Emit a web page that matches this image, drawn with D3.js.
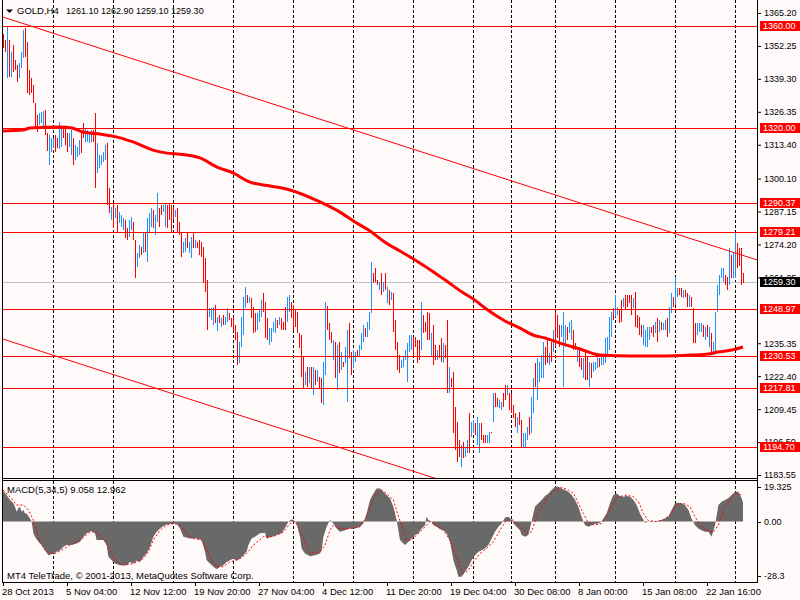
<!DOCTYPE html>
<html>

<head>
    <meta charset="utf-8">
    <title>GOLD,H4</title>
    <script src="https://cdn.jsdelivr.net/npm/d3@7"></script>
    <style>
        body { margin: 0; background: #fffafa; }
        svg text { font-family: 'Liberation Sans', Arial, sans-serif; font-size: 9.5px; }
        svg text.num { font-size: 9px; }
    </style>
</head>

<body>
    <svg width="800" height="600" id="mainsvg" style="display: block;"></svg>
    <script>
        // ---- data (bar index 0 = 28 Oct 2013 20:00, H4 bars) ----
        const symbolName = 'GOLD,H4';
        const lastOHLC = [1261.10, 1262.90, 1259.10, 1259.30];

        const barHigh = [
            1356.8, 1354.6, 1359.8, 1354.6, 1350.0, 1352.6, 1346.7, 1344.7, 1345.5, 1350.0,
            1358.5, 1359.3, 1353.9, 1342.8, 1339.6, 1336.9, 1329.8, 1325.1, 1325.9, 1326.3,
            1326.7, 1327.0, 1318.0, 1317.2, 1316.0, 1316.0, 1317.2, 1316.0, 1322.3, 1320.0,
            1320.0, 1320.0, 1318.0, 1318.0, 1319.2, 1316.0, 1313.3, 1312.5, 1315.3, 1319.2,
            1321.9, 1320.0, 1319.2, 1318.4, 1319.2, 1319.2, 1325.9, 1314.1, 1309.4, 1309.4,
            1310.5, 1313.3, 1314.1, 1296.4, 1288.9, 1290.5, 1288.5, 1289.7, 1287.0, 1285.8,
            1284.6, 1283.8, 1280.7, 1283.8, 1285.0, 1283.0, 1275.9, 1270.8, 1274.0, 1273.2,
            1278.7, 1279.1, 1284.6, 1286.6, 1288.5, 1287.7, 1285.8, 1294.4, 1288.5, 1289.7,
            1289.7, 1290.5, 1289.7, 1290.5, 1289.7, 1288.9, 1287.7, 1288.5, 1283.0, 1279.1,
            1275.1, 1276.7, 1278.7, 1275.1, 1277.1, 1278.7, 1275.9, 1275.1, 1275.9, 1275.1,
            1273.2, 1268.9, 1260.2, 1249.2, 1249.2, 1249.6, 1250.4, 1245.7, 1246.4, 1245.3,
            1246.4, 1245.7, 1249.2, 1247.2, 1245.3, 1245.7, 1242.5, 1239.8, 1235.8, 1245.7,
            1253.5, 1257.5, 1254.3, 1253.5, 1253.1, 1249.6, 1247.2, 1247.2, 1248.4, 1252.3,
            1255.1, 1251.6, 1245.3, 1241.3, 1241.3, 1243.7, 1245.3, 1244.5, 1245.7, 1245.3,
            1243.7, 1249.6, 1253.5, 1254.3, 1251.6, 1250.4, 1248.4, 1247.6, 1239.4, 1238.6,
            1229.9, 1224.0, 1226.0, 1226.0, 1226.0, 1226.0, 1224.8, 1224.8, 1222.1, 1221.7,
            1228.0, 1251.6, 1250.0, 1243.3, 1239.8, 1236.6, 1235.8, 1234.7, 1235.8, 1231.9,
            1228.0, 1233.9, 1240.5, 1243.3, 1231.9, 1232.7, 1231.9, 1232.7, 1234.7, 1239.4,
            1242.5, 1241.3, 1243.7, 1247.6, 1267.3, 1263.0, 1265.0, 1260.2, 1259.4, 1263.0,
            1259.4, 1263.0, 1257.5, 1256.3, 1255.5, 1255.1, 1244.5, 1235.8, 1230.7, 1228.8,
            1229.9, 1232.7, 1235.4, 1238.6, 1238.6, 1237.8, 1237.8, 1236.6, 1236.6, 1251.6,
            1246.4, 1243.7, 1247.6, 1247.2, 1239.4, 1242.5, 1234.7, 1232.7, 1234.7, 1237.4,
            1235.4, 1234.7, 1244.5, 1226.0, 1221.7, 1224.0, 1210.3, 1204.4, 1197.3, 1195.4,
            1196.5, 1194.6, 1197.3, 1207.9, 1204.4, 1205.2, 1204.0, 1206.3, 1204.0, 1204.0,
            1199.3, 1199.3, 1199.3, 1200.4, 1200.4, 1215.8, 1215.8, 1213.8, 1213.0, 1212.2,
            1215.8, 1218.9, 1218.9, 1215.8, 1215.8, 1211.1, 1207.9, 1206.3, 1208.3, 1205.2,
            1200.0, 1200.0, 1202.4, 1206.3, 1214.2, 1221.7, 1227.6, 1229.5, 1228.0, 1230.7,
            1235.8, 1233.9, 1236.6, 1231.5, 1235.8, 1240.5, 1247.6, 1246.4, 1242.5, 1242.5,
            1247.6, 1242.5, 1241.7, 1243.7, 1244.5, 1240.5, 1235.4, 1233.9, 1233.9, 1229.5,
            1229.5, 1231.9, 1229.9, 1228.0, 1227.6, 1228.0, 1228.0, 1231.5, 1229.5, 1230.7,
            1230.7, 1237.4, 1237.8, 1245.7, 1247.6, 1249.2, 1254.3, 1249.6, 1248.4, 1252.3,
            1253.1, 1254.3, 1254.3, 1254.3, 1254.3, 1253.1, 1255.5, 1246.4, 1245.7, 1242.5,
            1242.5, 1240.5, 1241.7, 1241.7, 1241.7, 1242.5, 1243.7, 1245.3, 1244.5, 1243.7,
            1243.3, 1244.5, 1245.3, 1249.6, 1255.1, 1253.5, 1261.4, 1257.1, 1257.1, 1257.1,
            1256.3, 1256.3, 1255.1, 1254.3, 1253.5, 1249.2, 1243.3, 1243.3, 1243.3, 1243.3,
            1242.5, 1241.7, 1242.5, 1241.7, 1239.4, 1235.8, 1247.6, 1258.2, 1262.2, 1264.9,
            1264.9, 1262.2, 1261.4, 1272.8, 1270.0, 1271.2, 1279.1, 1274.8, 1272.8, 1272.8,
            1262.9
        ];

        const barLow = [
            1351.3, 1350.0, 1339.7, 1340.1, 1340.1, 1342.1, 1342.8, 1338.2, 1339.6, 1343.6,
            1347.5, 1348.0, 1333.6, 1333.0, 1333.7, 1329.8, 1320.0, 1318.4, 1321.2, 1321.9,
            1320.4, 1317.2, 1310.9, 1305.4, 1310.5, 1312.1, 1310.5, 1312.1, 1311.7, 1312.5,
            1316.0, 1313.3, 1310.5, 1312.5, 1309.4, 1305.4, 1307.4, 1308.6, 1309.4, 1310.1,
            1316.0, 1314.5, 1314.5, 1314.1, 1314.5, 1314.5, 1296.4, 1302.3, 1304.2, 1305.4,
            1306.6, 1307.4, 1289.7, 1286.5, 1283.8, 1280.6, 1284.6, 1278.7, 1282.6, 1281.0,
            1279.9, 1276.7, 1275.9, 1277.1, 1279.9, 1275.9, 1261.0, 1265.3, 1268.9, 1270.0,
            1270.8, 1271.2, 1267.3, 1278.7, 1281.1, 1280.7, 1277.9, 1283.0, 1281.1, 1285.8,
            1287.0, 1281.1, 1280.7, 1283.8, 1279.1, 1283.8, 1285.0, 1279.1, 1277.9, 1269.2,
            1270.8, 1271.2, 1272.8, 1270.8, 1268.9, 1272.8, 1272.8, 1272.8, 1270.0, 1269.2,
            1259.0, 1255.5, 1240.5, 1245.7, 1244.5, 1242.5, 1243.3, 1240.1, 1243.3, 1241.7,
            1242.5, 1242.5, 1243.7, 1244.5, 1241.7, 1240.5, 1236.6, 1226.8, 1227.6, 1233.9,
            1238.6, 1249.2, 1251.2, 1251.2, 1245.3, 1239.4, 1239.8, 1240.5, 1243.7, 1245.7,
            1247.6, 1237.4, 1236.6, 1234.7, 1235.8, 1239.8, 1239.4, 1241.3, 1242.5, 1240.5,
            1240.5, 1240.5, 1243.7, 1247.6, 1245.3, 1240.5, 1241.7, 1239.4, 1233.5, 1222.1,
            1217.7, 1218.9, 1218.1, 1219.7, 1217.7, 1215.0, 1218.9, 1220.1, 1217.7, 1211.8,
            1211.1, 1222.9, 1240.5, 1236.6, 1235.4, 1228.8, 1221.7, 1217.0, 1223.6, 1224.8,
            1226.0, 1227.6, 1212.2, 1229.5, 1222.9, 1225.6, 1228.0, 1229.9, 1229.9, 1232.7,
            1235.8, 1237.8, 1237.8, 1240.5, 1247.2, 1259.0, 1259.4, 1258.2, 1256.3, 1254.3,
            1255.5, 1256.3, 1251.2, 1250.4, 1252.3, 1239.8, 1232.7, 1224.8, 1223.6, 1225.6,
            1226.0, 1228.8, 1220.1, 1231.9, 1232.7, 1229.9, 1233.9, 1227.6, 1228.8, 1232.7,
            1239.4, 1239.8, 1236.6, 1236.6, 1229.9, 1226.8, 1228.8, 1228.8, 1229.5, 1228.0,
            1227.6, 1229.5, 1215.8, 1215.8, 1218.1, 1200.0, 1193.4, 1188.6, 1190.6, 1186.7,
            1190.2, 1190.6, 1192.2, 1192.2, 1198.5, 1200.0, 1199.3, 1195.3, 1192.2, 1197.3,
            1196.1, 1196.1, 1196.1, 1196.1, 1200.0, 1204.4, 1210.3, 1210.3, 1209.9, 1209.1,
            1210.3, 1213.0, 1215.0, 1209.1, 1207.9, 1205.9, 1202.4, 1200.0, 1203.2, 1194.5,
            1194.5, 1194.2, 1197.3, 1199.3, 1200.0, 1207.9, 1218.1, 1213.0, 1220.1, 1221.7,
            1221.7, 1226.8, 1227.6, 1226.8, 1228.0, 1231.9, 1233.9, 1237.4, 1233.9, 1237.8,
            1218.1, 1233.9, 1236.6, 1239.4, 1236.6, 1232.7, 1232.7, 1228.0, 1226.0, 1224.8,
            1221.7, 1220.9, 1220.9, 1218.1, 1221.7, 1224.0, 1224.8, 1225.6, 1226.0, 1226.8,
            1226.8, 1227.6, 1229.9, 1232.7, 1237.8, 1244.5, 1245.7, 1246.4, 1243.3, 1243.7,
            1249.6, 1248.4, 1249.6, 1251.2, 1246.4, 1249.2, 1241.7, 1241.3, 1238.6, 1237.8,
            1234.7, 1233.9, 1233.9, 1236.6, 1239.4, 1237.8, 1239.4, 1235.8, 1239.8, 1240.5,
            1240.5, 1240.5, 1237.8, 1239.4, 1247.2, 1249.6, 1250.4, 1253.5, 1254.3, 1253.5,
            1253.1, 1253.5, 1249.6, 1249.6, 1249.6, 1235.4, 1235.4, 1238.6, 1239.8, 1239.8,
            1237.8, 1236.6, 1237.8, 1233.9, 1230.7, 1230.7, 1231.5, 1247.6, 1254.3, 1261.0,
            1259.4, 1258.2, 1256.3, 1258.2, 1261.0, 1261.0, 1261.0, 1264.9, 1265.9, 1258.2,
            1259.1
        ];

        // u = bar closed up (blue), d = bar closed down (red)
        const barDir = (
            'ddududdduu' + 'uddddddduu' + 'udduuudduu' + 'ddduuduuud' + 'duuuudduuu' + 'uuddududuu' + 'ud' +
            'duudduudud' + 'uuuduudduu' + 'dddduddduu' + 'duududdddd' + 'duuudududu' + 'uddddduuuu' + 'du' +
            'ddduuudddu' + 'uuududdduu' + 'dddddddudu' + 'dududduudd' + 'dudududuud' + 'duuduuuduu' + 'ud' +
            'ddudududud' + 'ddduuuuuud' + 'ddduddddud' + 'dudduddudd' + 'ddduduuduu' + 'duuddduudu' + 'ddu' +
            'udduddddud' + 'duuuduuduu' + 'uuddududdd' + 'uuuduuddud' + 'dudduduuud' + 'uuuuuuduud' + 'du' +
            'dddduddddu' + 'uuuddududu' + 'uduuduuddu' + 'dduddduuud' + 'ududuuuuuu' + 'dduduudddd'
        ).split('');

        // moving average (thick red line), sampled along the curve
        const maBar = [0, 10, 13.5, 28.5, 34.5, 40, 48.5, 55, 65, 75, 82, 88.5, 98.5, 107, 115, 123.5,
            133.5, 143.5, 158.5, 168.5, 176, 183.5, 191, 198.5, 206, 216, 222.5, 229.5, 236, 241, 251,
            258.5, 265, 271, 278.5, 288.5, 298.5, 313.5, 328.5, 344.5, 352.5, 357.5, 364.5, 370];
        const maValue = [1318.8, 1319.2, 1320.0, 1320.4, 1320.0, 1318.4, 1317.6, 1316.8, 1314.5, 1311.3,
            1310.1, 1309.7, 1308.2, 1304.6, 1302.3, 1298.7, 1297.2, 1295.6, 1290.9, 1286.9, 1283.0,
            1279.5, 1275.1, 1271.6, 1268.1, 1263.0, 1259.4, 1255.5, 1252.3, 1249.2, 1244.1, 1241.3,
            1238.6, 1237.4, 1235.4, 1233.1, 1230.7, 1230.3, 1230.3, 1230.7, 1231.1, 1231.9, 1232.7, 1233.9];

        // trend channel (two anchor bars)
        const trendBars = [0, 377];
        const trendUpper = [1363.6, 1268.1];
        const trendLower = [1237.0, 1141.5];

        const levels = [1360.00, 1320.00, 1290.37, 1279.21, 1248.97, 1230.53, 1217.81, 1194.70];
        const bidPrice = 1259.30;
        // 1248.30 sits fully under the 1248.97 tag, so it is left out
        const priceTicks = [1365.20, 1352.25, 1339.30, 1326.35, 1313.40, 1300.10, 1287.15, 1274.20,
            1261.25, 1235.35, 1222.40, 1209.45, 1196.50, 1183.55];

        // MACD(5,34,5) histogram and signal, sampled along the outline
        const macdBar = [0, 1.8, 3.5, 5.2, 6, 6.8, 7.7, 8.5, 9.3, 10.2, 11, 11.8, 13.5, 14.3, 15.2, 16, 17.7,
            19.3, 21, 22.7, 25.2, 26.8, 28.5, 30.2, 31.8, 34.3, 36.8, 38.5, 40.2, 41.8, 44.3, 46, 46.8,
            50.2, 51.8, 52.7, 54.3, 56, 58.5, 61.8, 63.5, 65.2, 66.8, 68.5, 70.2, 71.8, 73.5, 75.2, 76.8,
            78.5, 80.2, 81.8, 85.2, 86.8, 88.5, 90.2, 93.5, 96.8, 99.3, 101, 101.8, 103.5, 105.2, 106.8,
            108.5, 110.2, 111.8, 113.5, 115.2, 116.8, 118.5, 120.2, 121.8, 122.7, 124.3, 126, 128.5, 131,
            131.8, 134.3, 136.8, 139.3, 141.8, 142.7, 144.3, 145.2, 146.8, 148.5, 149.3, 151, 153.5, 156,
            158.5, 159.3, 160.2, 161.8, 163.5, 165.2, 166.8, 168.5, 171, 173.5, 176, 178.5, 180.2, 181.8,
            183.5, 185.2, 186.8, 188.5, 190.2, 191.8, 193.5, 195.2, 196.8, 197.7, 198.5, 200.2, 201, 202.7,
            204.3, 206, 207.7, 209.3, 211, 211.8, 212.7, 214.3, 215.2, 216.8, 218.5, 220.2, 221.8, 223.5,
            224.3, 225.2, 226.8, 227.7, 229.3, 231, 232.7, 234.3, 236, 237.7, 239.3, 241, 242.7, 244.3,
            246, 247.7, 249.3, 251, 252.7, 254.3, 255.2, 256.8, 258.5, 259.3, 261, 262.7, 264.3, 265.2,
            266, 267.7, 269.3, 271, 272.7, 274.3, 276, 277.7, 279.3, 281, 282.7, 284.3, 286, 287.7, 289.3,
            290.2, 291, 292.7, 294.3, 296, 297.7, 299.3, 300.2, 301.8, 303.5, 305.2, 306.8, 308.5, 310.2,
            311.8, 313.5, 315.2, 316.8, 318.5, 320.2, 321, 322.7, 324.3, 326, 327.7, 329.3, 331, 332.7,
            334.3, 336, 337.7, 339.3, 341, 342.7, 344.3, 346, 347.7, 349.3, 351, 352.7, 354.3, 356, 357.7,
            359.3, 361, 362.7, 364.3, 366, 367.7, 369.3, 370];
        const macdValue = [14.7, 12.6, 10.3, 8.7, 7.1, 4.7, 6.3, 7.1, 4.7, 5.5, 3.9, 3.9, 1.5, 0, -5.6, -7.2,
            -9.6, -11.2, -13.6, -16.0, -15.2, -14.4, -13.6, -12.0, -11.2, -11.2, -10.4, -9.6, -7.2, -5.6,
            -4.5, -5.6, -8.8, -8.8, -11.2, -16.8, -18.4, -20.0, -20.8, -20.8, -19.2, -20.0, -18.7, -19.2,
            -16.8, -15.2, -12.0, -7.2, -4.9, -3.3, -2.1, -1.4, -0.9, -0.9, -3.3, -7.2, -8.0, -8.0, -8.8,
            -14.4, -18.4, -20.0, -21.5, -22.7, -21.5, -20.8, -19.2, -18.4, -17.6, -18.7, -17.6, -16.0,
            -14.4, -11.2, -8.0, -7.2, -5.6, -5.3, -8.0, -7.2, -6.4, -5.6, -1.7, 0, 1.0, 0.7, -0.9, -7.2,
            -12.8, -15.2, -16.5, -16.0, -15.2, -13.6, -7.2, -2.5, 0.7, -0.9, -3.3, -4.9, -4.1, -3.3, -3.3,
            -2.5, -0.9, 3.9, 10.3, 13.4, 15.8, 15.8, 14.2, 12.6, 11.1, 7.1, 0.7, -4.1, -8.8, -10.4, -11.2,
            -9.6, -8.0, -6.4, -5.6, -3.3, -1.7, 2.3, 0.7, 0, -1.7, -2.5, -3.7, -4.1, -5.6, -9.6, -13.6,
            -18.4, -23.1, -26.3, -26.3, -23.9, -21.5, -18.4, -16.0, -14.4, -13.6, -12.8, -11.2, -8.0, -4.9,
            -2.5, -0.9, 2.0, 2.3, 0.7, -0.9, -2.5, -4.1, -6.4, -7.2, -6.4, 0, 3.9, 7.1, 8.7, 10.3, 12.2,
            13.4, 15.0, 16.6, 16.6, 15.8, 15.0, 14.2, 12.6, 10.3, 7.1, 2.3, 0, -1.7, -2.5, -1.7, -1.2,
            -0.9, 0, 1.5, 3.9, 8.7, 12.6, 13.4, 12.2, 11.8, 12.2, 11.8, 10.3, 7.9, 3.9, 0.7, -0.6, 0, 0.4,
            0, 0.4, 0.7, 1.5, 2.3, 5.5, 8.7, 9.0, 8.7, 7.9, 5.5, 1.5, -1.7, -3.3, -4.1, -4.9, -4.9, -7.2,
            -1.7, 7.9, 9.5, 10.3, 11.1, 12.6, 14.2, 14.2, 11.1, 9.058];

        const signalBar = [0, 3.5, 6.8, 10.2, 12.7, 15.2, 16.8, 18.5, 21, 23.5, 26, 29.3, 33.5, 38.5, 43.5,
            46, 48.5, 51, 53.5, 56, 59.3, 65.2, 70.2, 72.7, 75.2, 78.5, 81.8, 85.2, 88.5, 91.8, 95.2, 99.3,
            101.8, 104.3, 106.8, 110.2, 113.5, 118.5, 121.8, 125.2, 130.2, 135.2, 140.2, 143.5, 146, 148.5,
            151, 153.5, 158.5, 161, 163.5, 165.2, 168.5, 173.5, 178.5, 181.8, 184.3, 186.8, 189.3, 191.8,
            195.2, 197.7, 199.5, 201, 203.5, 206, 208.5, 211, 213.5, 216.8, 220.2, 223.5, 226, 228.5, 230.2,
            232.7, 235.2, 238.5, 241.8, 245.2, 248.5, 251.8, 255.2, 258.5, 261.8, 264.3, 266.8, 269.3,
            272.7, 276, 279.3, 282.7, 285.2, 287.7, 290.2, 292.7, 296, 299.3, 302.7, 305.2, 307.7, 311.8,
            315.2, 317.7, 320.2, 322.7, 326.8, 330.2, 333.5, 336.8, 340.2, 343.5, 346, 348.5, 351.8, 355.2,
            357.7, 360.2, 363.5, 366, 368.5, 370];
        const signalValue = [15.0, 11.8, 7.9, 7.9, 5.5, 0.7, -4.9, -9.6, -13.6, -15.2, -15.2, -13.6, -11.2,
            -8.8, -4.9, -4.9, -6.4, -8.8, -13.6, -18.4, -20.8, -20.0, -17.6, -14.4, -8.8, -4.1, -1.7, -0.9,
            -1.7, -5.6, -8.0, -8.8, -13.6, -18.4, -21.5, -21.5, -19.2, -17.6, -15.2, -11.2, -7.2, -7.2,
            -4.9, -0.9, 0, -4.1, -10.4, -15.2, -14.4, -11.2, -4.1, -1.7, -3.3, -3.3, -2.5, 2.3, 8.7, 13.4,
            15.0, 13.4, 10.3, 2.5, -2.5, -8.0, -9.1, -7.2, -4.9, -2.5, 0, -1.7, -4.1, -8.8, -15.2, -21.5,
            -24.7, -23.1, -19.2, -15.2, -12.8, -9.6, -4.1, 0.7, 0.7, -2.5, -5.6, -4.9, 2.3, 7.1, 11.8,
            15.0, 16.3, 15.0, 13.4, 8.7, 3.9, -0.9, -1.7, -0.9, 3.9, 8.7, 11.8, 12.6, 11.8, 9.5, 3.9, 0.4,
            0, 1.0, 3.1, 7.9, 8.7, 7.1, 2.3, -1.7, -4.1, -4.9, -1.7, 5.5, 10.3, 13.4, 12.8, 12.962];

        const macdTicks = [19.325, 0, -28.3];
        const macdTickLabels = ['19.325', '0.00', '-28.3'];
        const macdTitle = 'MACD(5,34,5) 9.058 12.962';
        const copyright = 'MT4 TeleTrade, \u00a9 2001-2013, MetaQuotes Software Corp.';

        const weekStartBars = [25, 55, 85, 115, 145, 175, 205, 235, 254, 276, 306, 336, 366];
        const timeLabelBars = [0, 32, 64, 96, 128, 160, 192, 224, 256, 288, 320, 352];
        const timeLabels = ['28 Oct 2013', '5 Nov 04:00', '12 Nov 12:00', '19 Nov 20:00', '27 Nov 04:00',
            '4 Dec 12:00', '11 Dec 20:00', '19 Dec 04:00', '30 Dec 08:00', '8 Jan 00:00', '15 Jan 08:00',
            '22 Jan 16:00'];

        // ---- layout ----
        const svg = d3.select('#mainsvg');
        const left = 2, right = 757;
        const priceTop = 0, priceBottom = 478;
        const macdTop = 480, macdBottom = 582;
        const upColor = '#1e90ff', downColor = '#ff0000';

        const xScale = d3.scaleLinear().domain([0, 370]).range([3, 743]);
        const yPrice = d3.scaleLinear().domain([1183.55, 1365.20]).range([475, 13]);
        const yMacd = d3.scaleLinear().domain([-28.3, 19.325]).range([macdBottom - 1, macdTop + 1]);

        svg.append('rect').attr('width', 800).attr('height', 600).attr('fill', '#fffafa');

        const defs = svg.append('defs');
        defs.append('clipPath').attr('id', 'clipPrice').append('rect')
            .attr('x', left + 1).attr('y', priceTop).attr('width', right - left - 1).attr('height', priceBottom - priceTop);
        defs.append('clipPath').attr('id', 'clipMacd').append('rect')
            .attr('x', left + 1).attr('y', macdTop + 1).attr('width', right - left - 1).attr('height', macdBottom - macdTop - 1);

        // week separators (dashed grid) in both panes
        const grid = svg.append('g').attr('stroke', '#000').attr('stroke-dasharray', '3,2')
            .attr('shape-rendering', 'crispEdges');
        [[priceTop, priceBottom], [macdTop + 1, macdBottom]].forEach(([y0, y1]) => {
            grid.selectAll(null).data(weekStartBars).join('line')
                .attr('x1', d => xScale(d) + 0.5).attr('x2', d => xScale(d) + 0.5)
                .attr('y1', y0).attr('y2', y1);
        });

        // ---- price pane ----
        const pg = svg.append('g').attr('clip-path', 'url(#clipPrice)');

        pg.append('line').attr('class', 'bid')
            .attr('x1', left).attr('x2', right)
            .attr('y1', Math.round(yPrice(bidPrice)) + 0.5).attr('y2', Math.round(yPrice(bidPrice)) + 0.5)
            .attr('stroke', '#c0c0c0');

        const bars = barHigh.map((h, i) => ({ i, h, l: barLow[i], up: barDir[i] === 'u' }));
        pg.append('g').attr('shape-rendering', 'crispEdges')
            .selectAll('rect').data(bars).join('rect')
            .attr('x', d => xScale(d.i))
            .attr('y', d => Math.round(yPrice(d.h)))
            .attr('width', 1)
            .attr('height', d => Math.max(1, Math.round(yPrice(d.l)) - Math.round(yPrice(d.h))))
            .attr('fill', d => d.up ? upColor : downColor);

        const maLine = d3.line().x((d, i) => xScale(maBar[i])).y(d => yPrice(d)).curve(d3.curveMonotoneX);
        pg.append('path').attr('d', maLine(maValue))
            .attr('fill', 'none').attr('stroke', '#ff0000').attr('stroke-width', 3);

        pg.selectAll('.level').data(levels).join('line').attr('class', 'level')
            .attr('x1', left).attr('x2', right)
            .attr('y1', d => Math.round(yPrice(d)) + 0.5).attr('y2', d => Math.round(yPrice(d)) + 0.5)
            .attr('stroke', '#ff0000');

        const trendLine = d3.line().x((d, i) => xScale(trendBars[i])).y(d => yPrice(d));
        [trendUpper, trendLower].forEach(t => {
            pg.append('path').attr('d', trendLine(t)).attr('fill', 'none').attr('stroke', '#ff0000');
        });

        // header
        svg.append('path').attr('d', 'M6,9.5 L13,9.5 L9.5,13 Z').attr('fill', '#000');
        svg.append('text').attr('x', 17).attr('y', 13.5).text(symbolName);
        svg.append('text').attr('class', 'num').attr('x', 66).attr('y', 13.5)
            .text(lastOHLC.map(d3.format('.2f')).join(' '));

        // ---- MACD pane ----
        const mg = svg.append('g').attr('clip-path', 'url(#clipMacd)');
        const histArea = d3.area()
            .x((d, i) => xScale(macdBar[i]))
            .y0(yMacd(0))
            .y1(d => yMacd(d));
        mg.append('path').attr('d', histArea(macdValue)).attr('fill', '#696969');

        const sigLine = d3.line().x((d, i) => xScale(signalBar[i])).y(d => yMacd(d));
        mg.append('path').attr('d', sigLine(signalValue))
            .attr('fill', 'none').attr('stroke', '#ff0000').attr('stroke-dasharray', '2,2');

        svg.append('text').attr('x', 7).attr('y', 492.5).text(macdTitle);
        svg.append('text').attr('x', 7).attr('y', 578.5).text(copyright);

        // ---- frames ----
        const frame = svg.append('g').attr('stroke', '#000').attr('shape-rendering', 'crispEdges');
        frame.append('line').attr('x1', left + 0.5).attr('x2', left + 0.5).attr('y1', 0).attr('y2', macdBottom + 0.5);
        frame.append('line').attr('x1', right + 0.5).attr('x2', right + 0.5).attr('y1', 0).attr('y2', macdBottom + 0.5);
        [priceBottom, macdTop, macdBottom].forEach(y => {
            frame.append('line').attr('x1', left).attr('x2', right + 1).attr('y1', y + 0.5).attr('y2', y + 0.5);
        });

        // ---- price axis ----
        const yAxis = d3.axisRight(yPrice).tickValues(priceTicks).tickFormat(d3.format('.2f'))
            .tickSize(3).tickPadding(3);
        const ya = svg.append('g').attr('transform', `translate(${right + 1},0)`).call(yAxis);
        ya.select('.domain').remove();
        ya.attr('font-family', null).attr('font-size', null);
        ya.selectAll('text').attr('class', 'num').attr('fill', '#000');

        // object labels on the axis
        const tagData = levels.map(v => ({ v, fill: '#ff0000' })).concat([{ v: bidPrice, fill: '#000000' }]);
        const tags = svg.append('g').selectAll('g').data(tagData).join('g')
            .attr('transform', d => `translate(${right + 3},${Math.round(yPrice(d.v))})`);
        tags.append('rect').attr('x', 0).attr('y', -5).attr('width', 40).attr('height', 10)
            .attr('fill', d => d.fill);
        tags.append('text').attr('class', 'num').attr('x', 3).attr('dy', '0.36em').attr('fill', '#fff')
            .text(d => d3.format('.2f')(d.v));

        // ---- MACD axis ----
        const macdAxis = d3.axisRight(yMacd).tickValues(macdTicks)
            .tickFormat((d, i) => macdTickLabels[i]).tickSize(3).tickPadding(3);
        const ma = svg.append('g').attr('transform', `translate(${right + 1},0)`).call(macdAxis);
        ma.select('.domain').remove();
        ma.attr('font-family', null).attr('font-size', null);
        ma.selectAll('text').attr('class', 'num').attr('fill', '#000');
        const mMax = d3.max(macdTicks), mMin = d3.min(macdTicks);
        ma.selectAll('.tick').attr('transform', d =>
            `translate(0,${Math.round(yMacd(d)) + (d === mMax ? 6 : d === mMin ? -5 : 0) + 0.5})`);

        // ---- time axis ----
        const tx = svg.append('g');
        tx.selectAll('line').data(timeLabelBars).join('line')
            .attr('x1', d => xScale(d) + 0.5).attr('x2', d => xScale(d) + 0.5)
            .attr('y1', macdBottom).attr('y2', macdBottom + 4)
            .attr('stroke', '#000').attr('shape-rendering', 'crispEdges');
        tx.selectAll('text').data(timeLabelBars).join('text')
            .attr('x', d => xScale(d) - 1).attr('y', 595)
            .text((d, i) => timeLabels[i]);
    </script>
</body>

</html>
